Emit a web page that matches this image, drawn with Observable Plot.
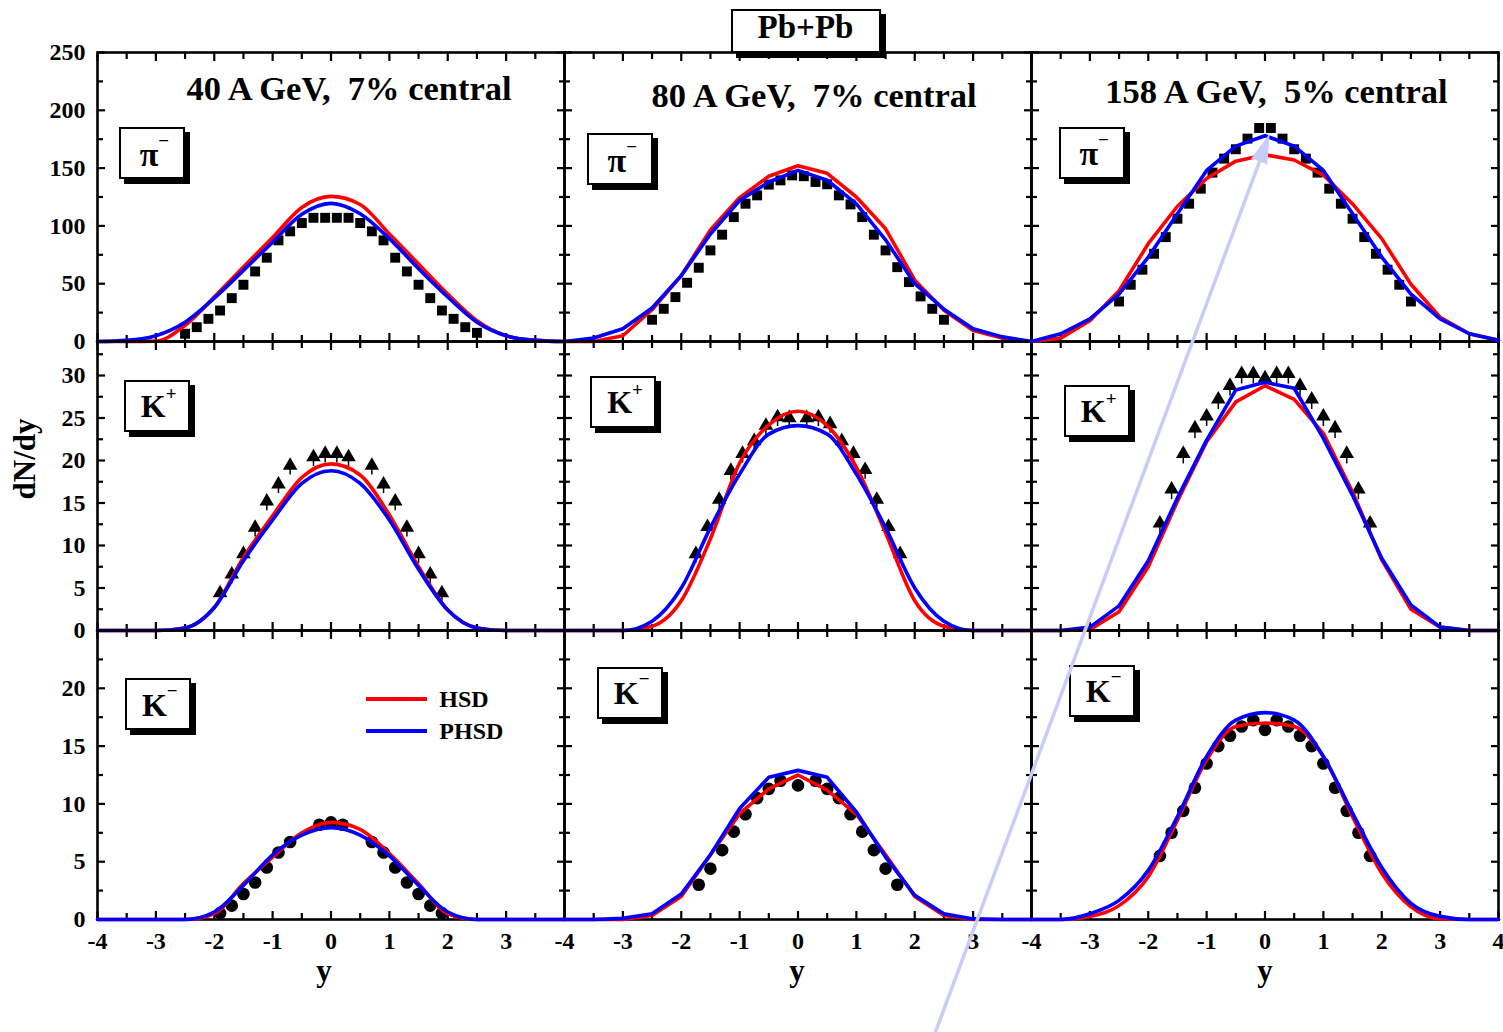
<!DOCTYPE html>
<html><head><meta charset="utf-8">
<script src="https://cdn.jsdelivr.net/npm/d3@7"></script>
<script src="https://cdn.jsdelivr.net/npm/@observablehq/plot@0.6"></script>
<style>
html,body{margin:0;padding:0;background:#fff;overflow:hidden;}
#fig{position:relative;width:1503px;height:1032px;overflow:hidden;font-family:"Liberation Serif","Times New Roman",serif;font-weight:bold;color:#000;}
.pnl{position:absolute;}
.box{position:absolute;box-sizing:border-box;border:2px solid #000;background:#fff;box-shadow:5px 5px 0 #000;}
.txt{position:absolute;line-height:1;white-space:pre;}
.sup{position:relative;font-size:19px;}
.leg{position:absolute;height:4px;}
</style></head><body><div id="fig"></div><script>
// ---------------- data ----------------
const energies = ["40 A GeV,  7% central", "80 A GeV,  7% central", "158 A GeV,  5% central"];
const particleLabels = ["π", "K", "K"];
const particleCharges = ["−", "+", "−"];
const legendNames = ["HSD", "PHSD"];
const legendColors = ["#ff0000", "#0000ff"];
const axisTitleX = "y";
const axisTitleY = "dN/dy";
const systemTitle = "Pb+Pb";

const xMajor = [-4, -3, -2, -1, 0, 1, 2, 3, 4];
const xMinor = [-3.5, -2.5, -1.5, -0.5, 0.5, 1.5, 2.5, 3.5];
const xLabels = [[-4, -3, -2, -1, 0, 1, 2, 3], [-4, -3, -2, -1, 0, 1, 2, 3], [-4, -3, -2, -1, 0, 1, 2, 3, 4]];
const yDomains = [[0, 250], [0, 34], [0, 25]];
const yMajor = [[0, 50, 100, 150, 200, 250], [0, 5, 10, 15, 20, 25, 30], [0, 5, 10, 15, 20, 25]];
const yMinor = [[25, 75, 125, 175, 225], [2.5, 7.5, 12.5, 17.5, 22.5, 27.5, 32.5], [2.5, 7.5, 12.5, 17.5, 22.5]];
const yLabels = [[0, 50, 100, 150, 200, 250], [0, 5, 10, 15, 20, 25, 30], [0, 5, 10, 15, 20]];

// experimental points (pi-)
const piRapidity = [-2.5, -2.3, -2.1, -1.9, -1.7, -1.5, -1.3, -1.1, -0.9, -0.7, -0.5, -0.3, -0.1, 0.1, 0.3, 0.5, 0.7, 0.9, 1.1, 1.3, 1.5, 1.7, 1.9, 2.1, 2.3, 2.5];
const pi40 = [6.7, 12.4, 19.6, 26.8, 37.5, 49.1, 60.6, 72.5, 87.5, 95.3, 102.5, 107, 107, 107, 107, 102.5, 95.3, 87.5, 72.5, 60.6, 49.1, 37.5, 26.8, 19.6, 12.4, 7.5];
const pi80 = [18.8, 28.3, 38.4, 50.8, 63.8, 78.8, 92.4, 107.6, 119.2, 126.4, 135.7, 139.4, 143.7, 143, 138, 136, 126.4, 118.6, 107.6, 92.4, 78.8, 64.3, 51.4, 39, 28.3, 18.8];
const pi158 = [34.6, 49.1, 62.1, 75.9, 90.3, 106.2, 119.2, 132.2, 146.1, 158.2, 166.3, 175.5, 184.7, 184.7, 175.5, 166.3, 158.2, 146.1, 132.2, 119.2, 106.2, 90.3, 75.9, 62.1, 49.1, 34.6];
// K+
const kp40X = [-1.9, -1.7, -1.5, -1.3, -1.1, -0.9, -0.7, -0.3, -0.1, 0.1, 0.3, 0.7, 0.9, 1.1, 1.3, 1.5, 1.7, 1.9];
const kp40 = [4.4, 6.6, 9.0, 12.1, 15.2, 17.2, 19.4, 20.4, 20.8, 20.8, 20.4, 19.4, 17.2, 15.2, 12.1, 9.0, 6.6, 4.4];
const kp80X = [-1.75, -1.55, -1.35, -1.15, -0.95, -0.75, -0.55, -0.35, -0.15, 0.15, 0.35, 0.55, 0.75, 0.95, 1.15, 1.35, 1.55, 1.75];
const kp80 = [9.0, 12.2, 15.4, 18.8, 20.8, 22.3, 24.1, 25.1, 25.0, 25.0, 25.1, 24.3, 22.3, 20.8, 18.9, 15.4, 12.2, 9.0];
const kp158X = [-1.8, -1.6, -1.4, -1.2, -1.0, -0.8, -0.6, -0.4, -0.2, 0, 0.2, 0.4, 0.6, 0.8, 1.0, 1.2, 1.4, 1.6, 1.8];
const kp158 = [12.6, 16.6, 20.8, 23.8, 25.2, 27.2, 28.8, 30.2, 30.2, 29.7, 30.2, 30.2, 28.8, 27.2, 25.2, 23.8, 20.8, 16.6, 12.6];
const kpErr = [1.1, 1.1, 1.2];
// K-
const km40X = [-1.9, -1.7, -1.5, -1.3, -1.1, -0.9, -0.7, -0.2, 0, 0.2, 0.7, 0.9, 1.1, 1.3, 1.5, 1.7, 1.9];
const km40 = [0.55, 1.2, 2.2, 3.2, 4.5, 5.8, 6.7, 8.2, 8.4, 8.2, 6.7, 5.8, 4.5, 3.2, 2.2, 1.2, 0.55];
const km80X = [-1.7, -1.5, -1.3, -1.1, -0.9, -0.7, -0.5, -0.3, 0, 0.3, 0.5, 0.7, 0.9, 1.1, 1.3, 1.5, 1.7];
const km80 = [3.0, 4.4, 6.0, 7.6, 9.1, 10.5, 11.3, 12.0, 11.6, 12.0, 11.3, 10.5, 9.1, 7.6, 6.0, 4.4, 3.0];
const km158X = [-1.8, -1.6, -1.4, -1.2, -1.0, -0.8, -0.6, -0.4, -0.2, 0, 0.2, 0.4, 0.6, 0.8, 1.0, 1.2, 1.4, 1.6, 1.8];
const km158 = [5.5, 7.5, 9.4, 11.4, 13.5, 15.0, 15.9, 16.7, 17.25, 16.4, 17.25, 16.7, 15.9, 15.0, 13.5, 11.4, 9.4, 7.5, 5.5];

// transport model curves on a common rapidity grid
const modelY = [-4, -3.5, -3, -2.5, -2, -1.5, -1, -0.5, 0, 0.5, 1, 1.5, 2, 2.5, 3, 3.5, 4];
const hsdPi40 = [0, 0, 0.3, 14, 38.5, 64.5, 90, 116, 125.5, 118.5, 93, 67, 41, 18, 5, 1, 0];
const phsdPi40 = [0, 1, 5, 16.7, 37.5, 61.5, 86, 110, 119.5, 110.5, 89, 63, 38.5, 16.7, 5, 1, 0];
const hsdPi80 = [0, 0, 5, 27.5, 57, 96.5, 124.5, 143, 152, 145.5, 125, 97.5, 53, 27, 9.5, 3, 0];
const phsdPi80 = [0, 3, 11, 29, 57, 93, 122, 138, 148, 139.5, 119, 88, 50, 28, 11, 4, 0];
const hsdPi158 = [0, 2.9, 18, 44, 84.6, 117, 141, 156, 161.5, 157, 144, 119, 89, 49.5, 21, 6.7, 1];
const phsdPi158 = [0, 6.7, 19.6, 41, 73, 110.6, 148, 169, 178, 169, 148, 110.6, 73, 41, 19.6, 6.7, 1];
const hsdKp40 = [0, 0, 0, 0.3, 2.7, 8.6, 13.5, 18.0, 19.6, 18.3, 13.6, 7.5, 2.4, 0.3, 0, 0, 0];
const phsdKp40 = [0, 0, 0, 0.3, 2.7, 8.2, 13.0, 17.3, 18.8, 17.3, 13.0, 7.2, 2.4, 0.3, 0, 0, 0];
const hsdKp80 = [0, 0, 0, 0.5, 3.5, 10.8, 19.7, 24.2, 25.8, 24.1, 19.2, 11.5, 3.5, 0.5, 0, 0, 0];
const phsdKp80 = [0, 0, 0, 1.1, 5.0, 12.1, 18.4, 23.1, 24.1, 23.1, 18.4, 12.1, 5.0, 1.1, 0, 0, 0];
const hsdKp158 = [0, 0, 0.1, 2.2, 7.5, 15.2, 22.2, 26.9, 28.8, 27.2, 23.2, 16.3, 8.3, 2.5, 0.4, 0, 0];
const phsdKp158 = [0, 0, 0.4, 2.9, 8.2, 15.6, 22.4, 28.3, 29.2, 28.5, 22.6, 15.9, 8.5, 3.0, 0.4, 0, 0];
const hsdKm40 = [0, 0, 0, 0, 0.5, 3.1, 5.4, 7.5, 8.4, 7.8, 5.7, 3.1, 0.5, 0, 0, 0, 0];
const phsdKm40 = [0, 0, 0, 0, 0.65, 2.95, 5.6, 7.3, 7.95, 7.3, 5.5, 2.95, 0.65, 0, 0, 0, 0];
const hsdKm80 = [0, 0, 0, 0.35, 2.0, 5.6, 9.15, 11.3, 12.5, 11.2, 9.1, 5.6, 2.0, 0.35, 0, 0, 0];
const phsdKm80 = [0, 0, 0.1, 0.5, 2.2, 5.6, 9.6, 12.3, 12.9, 12.3, 9.3, 5.4, 2.1, 0.5, 0.05, 0, 0];
const hsdKm158 = [0, 0, 0.27, 1.2, 3.7, 8.6, 13.8, 16.7, 17.0, 16.7, 14.1, 8.9, 4.0, 1.1, 0.06, 0, 0];
const phsdKm158 = [0, 0, 0.5, 1.65, 4.25, 8.9, 14.1, 17.25, 17.9, 17.25, 14.1, 9.2, 4.5, 1.4, 0.27, 0, 0];

// annotation arrow (in the 158 A GeV pi- panel's data coordinates)
const arrowTail = {x: -5.65, y: -598};
const arrowNeck = {x: -0.01, y: 167};
const arrowTip = {x: 0.07, y: 178.5};

// ---------------- layout ----------------
const fig = document.getElementById("fig");
const FONT = '"Liberation Serif","Times New Roman",serif';
const colLeft = [97, 564, 1031], rowTop = [52, 341, 630], PW = 467, PH = 289;
const ML = 70, MR = 15, MT = 15, MB = 70;

const rows = [
  {xs: [piRapidity, piRapidity, piRapidity], vs: [pi40, pi80, pi158], hsd: [hsdPi40, hsdPi80, hsdPi158], phsd: [phsdPi40, phsdPi80, phsdPi158], symbol: "square", r: 5.6},
  {xs: [kp40X, kp80X, kp158X], vs: [kp40, kp80, kp158], hsd: [hsdKp40, hsdKp80, hsdKp158], phsd: [phsdKp40, phsdKp80, phsdKp158], symbol: "triangle", r: 5.4, err: kpErr},
  {xs: [km40X, km80X, km158X], vs: [km40, km80, km158], hsd: [hsdKm40, hsdKm80, hsdKm158], phsd: [phsdKm40, phsdKm80, phsdKm158], symbol: "circle", r: 6.3}
];
const curveHSD = [["monotone-x", "linear", "linear"], ["monotone-x", "monotone-x", "linear"], ["monotone-x", "linear", "monotone-x"]];
const curvePHSD = [["monotone-x", "linear", "linear"], ["monotone-x", "monotone-x", "linear"], ["monotone-x", "linear", "monotone-x"]];

function tickAxes() {
  const common = {fill: "none", strokeWidth: 2.2, label: null};
  return [
    Plot.axisX({...common, anchor: "bottom", ticks: xMajor, tickSize: -8}),
    Plot.axisX({...common, anchor: "bottom", ticks: xMinor, tickSize: -6}),
    Plot.axisX({...common, anchor: "top", ticks: xMajor, tickSize: -8}),
    Plot.axisX({...common, anchor: "top", ticks: xMinor, tickSize: -6})
  ];
}
function tickAxesY(r) {
  const common = {fill: "none", strokeWidth: 2.2, label: null};
  return [
    Plot.axisY({...common, anchor: "left", ticks: yMajor[r], tickSize: -8}),
    Plot.axisY({...common, anchor: "left", ticks: yMinor[r], tickSize: -6}),
    Plot.axisY({...common, anchor: "right", ticks: yMajor[r], tickSize: -8}),
    Plot.axisY({...common, anchor: "right", ticks: yMinor[r], tickSize: -6})
  ];
}

function makePanel(r, c) {
  const row = rows[r];
  const pts = row.xs[c].map((x, i) => ({x, v: row.vs[c][i]}));
  const hsd = modelY.map((x, i) => ({x, v: row.hsd[c][i]}));
  const phsd = modelY.map((x, i) => ({x, v: row.phsd[c][i]}));
  const marks = [Plot.frame({stroke: "#000", strokeWidth: 2.6}), ...tickAxes(), ...tickAxesY(r)];
  if (row.err) {
    const e = row.err[c];
    marks.push(Plot.ruleX(pts, {x: "x", y1: d => d.v - e, y2: "v", stroke: "#000", strokeWidth: 1.5}));
  }
  marks.push(Plot.dot(pts, {x: "x", y: "v", symbol: row.symbol, r: row.r, fill: "#000", stroke: null}));
  marks.push(Plot.line(hsd, {x: "x", y: "v", stroke: legendColors[0], strokeWidth: 3.6, curve: curveHSD[r][c]}));
  marks.push(Plot.line(phsd, {x: "x", y: "v", stroke: legendColors[1], strokeWidth: 3.6, curve: curvePHSD[r][c]}));
  const textStyle = {tickSize: 0, tickPadding: 12, tickFormat: d => String(d), fontSize: 24, fontWeight: "bold", fontFamily: FONT, label: null};
  if (c === 0) marks.push(Plot.axisY({...textStyle, anchor: "left", ticks: yLabels[r]}));
  if (r === 2) marks.push(Plot.axisX({...textStyle, anchor: "bottom", ticks: xLabels[c]}));
  if (r === 0 && c === 2) {
    const lav = "#c9ccf8";
    marks.push(Plot.link([{tail: arrowTail, neck: arrowNeck}], {x1: d => d.tail.x, y1: d => d.tail.y, x2: d => d.neck.x, y2: d => d.neck.y, stroke: lav, strokeWidth: 3.5}));
    marks.push(Plot.vector([arrowTip], {x: "x", y: "y", shape: "spike", length: 28, r: 8, rotate: 20.4, anchor: "end", fill: lav, stroke: lav, strokeWidth: 1}));
  }
  const svg = Plot.plot({
    width: PW + ML + MR, height: PH + MT + MB,
    marginLeft: ML, marginRight: MR, marginTop: MT, marginBottom: MB,
    x: {domain: [-4, 4], axis: null},
    y: {domain: yDomains[r], axis: null},
    style: {background: "transparent", overflow: "visible", maxWidth: "none", color: "#000"},
    marks
  });
  const div = document.createElement("div");
  div.className = "pnl";
  div.style.left = (colLeft[c] - ML) + "px";
  div.style.top = (rowTop[r] - MT) + "px";
  div.style.width = (PW + ML + MR) + "px";
  div.style.height = (PH + MT + MB) + "px";
  div.appendChild(svg);
  return div;
}

function addText(html, x, baseline, size, align) {
  const d = document.createElement("div");
  d.className = "txt";
  d.style.fontSize = size + "px";
  d.style.top = (baseline - 0.8375 * size) + "px";
  d.style.left = x + "px";
  if (align === "middle") d.style.transform = "translateX(-50%)";
  d.innerHTML = html;
  fig.appendChild(d);
  return d;
}
function addBox(x, y, w, h) {
  const b = document.createElement("div");
  b.className = "box";
  Object.assign(b.style, {left: x + "px", top: y + "px", width: w + "px", height: h + "px"});
  fig.appendChild(b);
}

// panels (top-right last so its arrow lies on top)
let lastPanel = null;
for (let r = 0; r < 3; r++) for (let c = 0; c < 3; c++) {
  const p = makePanel(r, c);
  if (r === 0 && c === 2) lastPanel = p; else fig.appendChild(p);
}

// energy headers
const energyPos = [[349, 100], [814, 107], [1276.5, 102.7]];
energies.forEach((t, c) => addText(t, energyPos[c][0], energyPos[c][1], 34.5, "middle"));

// particle label boxes
const labelBoxes = [[[119.4, 127.3], [587.3, 133.3], [1059.2, 126.7]], [[123.6, 380], [590, 376], [1063.6, 385]], [[124.8, 678.3], [596.7, 666.7], [1068.6, 665]]];
labelBoxes.forEach((rowB, r) => rowB.forEach(([bx, by]) => {
  addBox(bx, by, 66, 52);
  const main = r === 0 ? `<span style="font-size:34px">${particleLabels[r]}</span>` : particleLabels[r];
  const shift = particleCharges[r] === "+" ? -17 : -19;
  addText(`${main}<span class="sup" style="top:${shift}px">${particleCharges[r]}</span>`, bx + 35, by + 37, 32, "middle");
}));

// legend
const legY = [699, 730.7];
legendNames.forEach((n, i) => {
  const l = document.createElement("div");
  l.className = "leg";
  Object.assign(l.style, {left: "365.5px", top: (legY[i] - 2) + "px", width: "61px", background: legendColors[i]});
  fig.appendChild(l);
  addText(n, 439.3, legY[i] + 8.3, 24, "start");
});

// axis titles
[324, 797, 1265].forEach(x => addText(axisTitleX, x, 981, 31, "middle"));
const yt = document.createElement("div");
yt.className = "txt";
Object.assign(yt.style, {fontSize: "31px", left: "24.2px", top: "459px", transform: "translate(-50%,-50%) rotate(-90deg)"});
yt.textContent = axisTitleY;
fig.appendChild(yt);

// system title box
addBox(731, 9.3, 150, 44);
addText(systemTitle, 805.5, 38.3, 33, "middle");

fig.appendChild(lastPanel);
</script></body></html>
